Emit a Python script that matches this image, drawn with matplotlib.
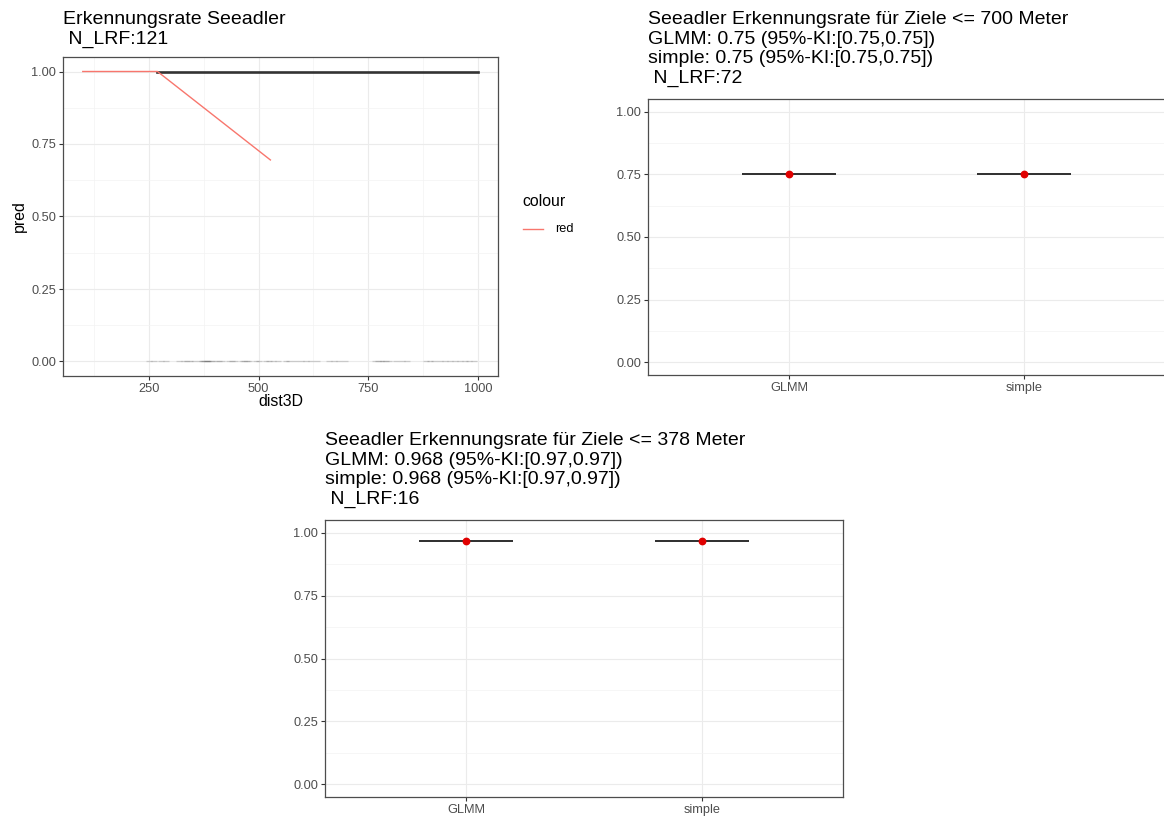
import matplotlib
matplotlib.use("Agg")
import matplotlib.pyplot as plt
from matplotlib.lines import Line2D
import numpy as np

plt.rcParams["font.family"] = ["Liberation Sans", "DejaVu Sans"]

# -----------------------------
# Data
# -----------------------------
# panel 1: prediction curves and observed distances (pred = 0)
red_dist = [100, 270, 527]
red_pred = [1.0, 1.0, 0.695]
black_dist = [270, 1000]
black_pred = [1.0, 1.0]
obs_dist = [250, 262, 278, 290, 318, 330, 338, 345, 352, 366, 372, 376, 380, 382,
            386, 390, 394, 403, 410, 416, 432, 440, 446, 462, 468, 474, 478,
            494, 500, 516, 524, 532, 544, 562, 570, 584, 596, 608, 620, 634,
            660, 672, 684, 696, 766, 772, 778, 784, 790, 796, 812, 826, 838,
            880, 890, 900, 912, 924, 936, 948, 958, 970, 980, 990]
obs_pred = [0.0] * len(obs_dist)

# panels 2 and 3: estimates with 95% CI
categories = ["GLMM", "simple"]
est_700 = [0.75, 0.75]
lo_700 = [0.75, 0.75]
hi_700 = [0.75, 0.75]
est_378 = [0.968, 0.968]
lo_378 = [0.968, 0.968]
hi_378 = [0.968, 0.968]

title_1 = "Erkennungsrate Seeadler\n N_LRF:121"
title_700 = ("Seeadler Erkennungsrate für Ziele <= 700 Meter\n"
             "GLMM: 0.75 (95%-KI:[0.75,0.75])\n"
             "simple: 0.75 (95%-KI:[0.75,0.75])\n"
             " N_LRF:72")
title_378 = ("Seeadler Erkennungsrate für Ziele <= 378 Meter\n"
             "GLMM: 0.968 (95%-KI:[0.97,0.97])\n"
             "simple: 0.968 (95%-KI:[0.97,0.97])\n"
             " N_LRF:16")

W, H = 1164, 816
fig = plt.figure(figsize=(W / 100, H / 100), dpi=100)

TICK_FS = 9.2
AXT_FS = 11.4
TITLE_FS = 14


def px_axes(left, top, right, bottom):
    return fig.add_axes([left / W, 1 - bottom / H, (right - left) / W, (bottom - top) / H])


def style_axes(ax):
    ax.set_facecolor("white")
    for sp in ax.spines.values():
        sp.set_color("#4d4d4d")
        sp.set_linewidth(0.9)
    ax.grid(which="major", color="#ebebeb", linewidth=0.8)
    ax.grid(which="minor", color="#f3f3f3", linewidth=0.5)
    ax.set_axisbelow(True)
    ax.tick_params(which="major", length=2.8, width=0.8, color="#333333",
                   labelsize=TICK_FS, labelcolor="#4d4d4d", pad=2.2)
    ax.tick_params(which="minor", length=0)
    ax.set_ylim(-0.05, 1.05)
    ax.set_yticks([0, 0.25, 0.5, 0.75, 1.0])
    ax.set_yticklabels(["0.00", "0.25", "0.50", "0.75", "1.00"])
    ax.set_yticks([0.125, 0.375, 0.625, 0.875], minor=True)


def title_text(ax, text, top_px):
    x0 = ax.get_position().x0
    fig.text(x0, 1 - top_px / H, text, ha="left", va="top", fontsize=TITLE_FS,
             linespacing=1.2, color="black")


# -----------------------------
# Panel 1: curve
# -----------------------------
ax1 = px_axes(63, 57, 498, 376)
style_axes(ax1)
ax1.set_xlim(55, 1045)
ax1.set_xticks([250, 500, 750, 1000])
ax1.set_xticks([125, 375, 625, 875], minor=True)
ax1.plot(obs_dist, obs_pred, linestyle="none", marker="_", markersize=4,
         color="black", alpha=0.14)
ax1.plot(black_dist, black_pred, color="#333333", linewidth=1.9)
ax1.plot(red_dist, red_pred, color="#F8766D", linewidth=1.0)
ax1.set_xlabel("dist3D", fontsize=AXT_FS, labelpad=-1)
ax1.set_ylabel("pred", fontsize=AXT_FS, labelpad=3)
title_text(ax1, title_1, 11)

# legend
fig.text(522 / W, 1 - 202 / H, "colour", ha="left", va="center", fontsize=AXT_FS)
fig.add_artist(Line2D([523 / W, 543 / W], [1 - 229 / H, 1 - 229 / H],
                      color="#F8766D", linewidth=1.0))
fig.text(555 / W, 1 - 229 / H, "red", ha="left", va="center", fontsize=TICK_FS)


# -----------------------------
# Panels 2 and 3: estimates
# -----------------------------
def est_panel(ax, est, lo, hi):
    style_axes(ax)
    xpos = np.arange(1, len(categories) + 1)
    ax.set_xlim(0.4, len(categories) + 0.6)
    ax.set_xticks(xpos)
    ax.set_xticklabels(categories)
    ax.hlines(lo, xpos - 0.2, xpos + 0.2, color="#333333", linewidth=1.4)
    ax.hlines(hi, xpos - 0.2, xpos + 0.2, color="#333333", linewidth=1.4)
    ax.vlines(xpos, lo, hi, color="#333333", linewidth=1.4)
    ax.plot(xpos, est, linestyle="none", marker="o", markersize=4.6,
            color="#e00000")


ax2 = px_axes(648, 99, 1165, 375)
est_panel(ax2, est_700, lo_700, hi_700)
title_text(ax2, title_700, 11)

ax3 = px_axes(325, 520, 843, 797)
est_panel(ax3, est_378, lo_378, hi_378)
title_text(ax3, title_378, 432)

fig.savefig("out.png", dpi=100, facecolor="white")
